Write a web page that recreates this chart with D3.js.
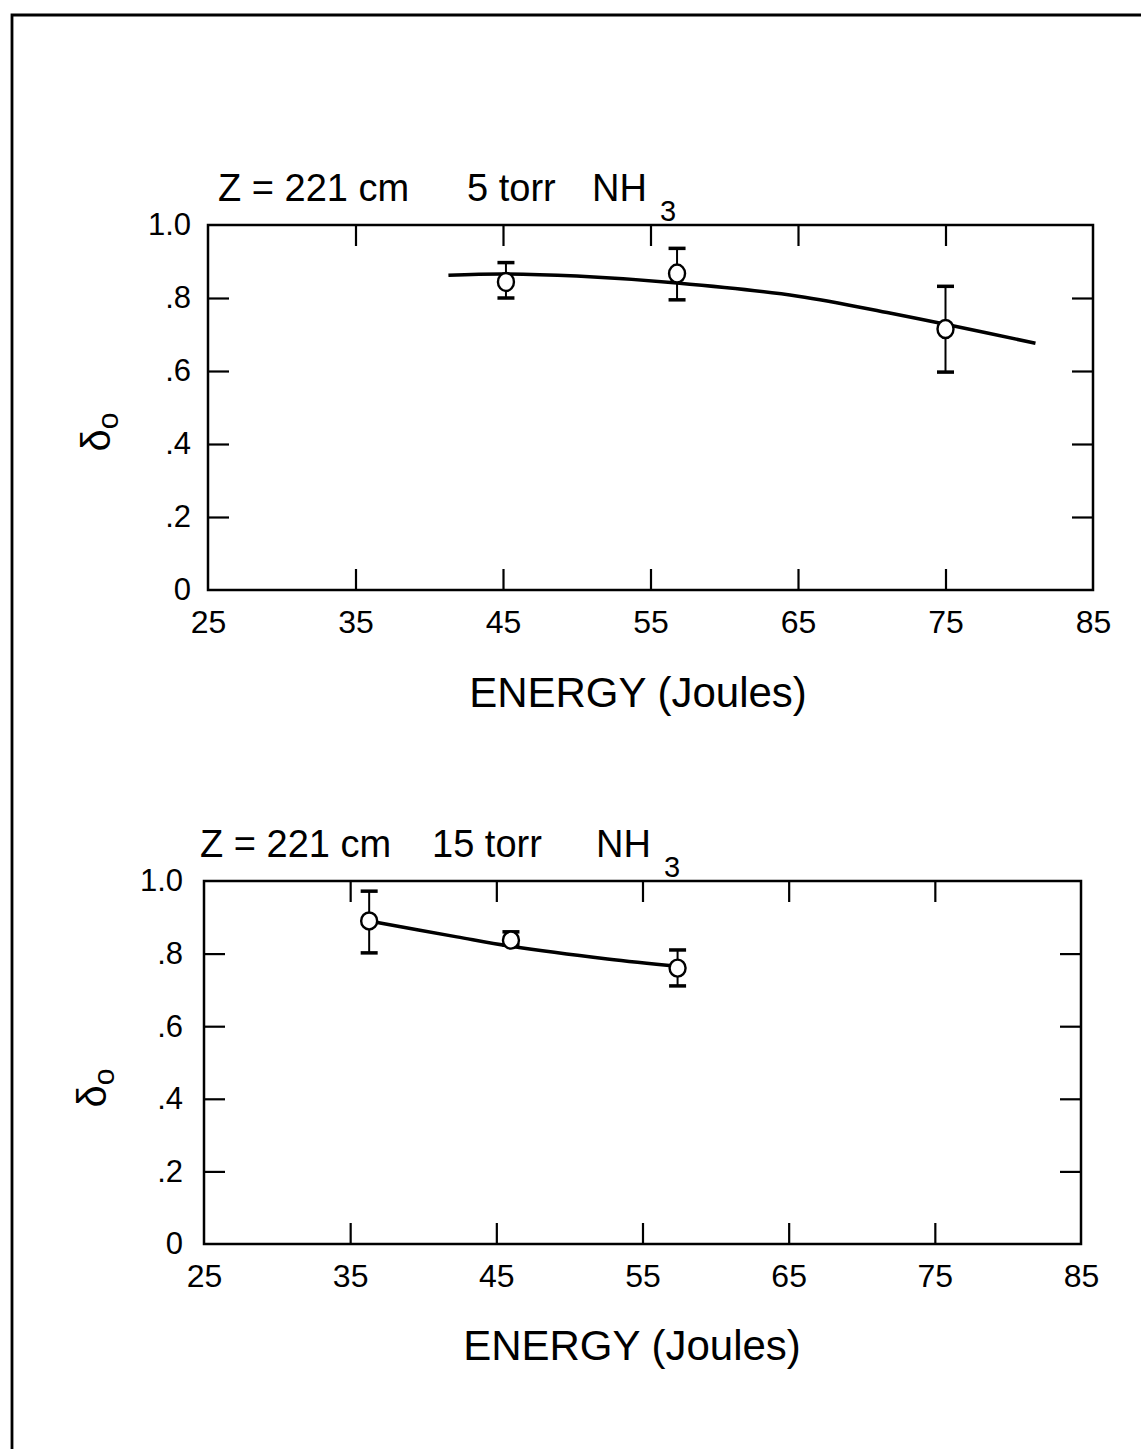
<!DOCTYPE html>
<html>
<head>
<meta charset="utf-8">
<script src="https://cdn.jsdelivr.net/npm/d3@7"></script>
<style>
  body { margin: 0; background: #fff; }
  svg text { font-family: "Liberation Sans", Arial, Helvetica, sans-serif; fill: #000; }
</style>
</head>
<body>
<svg id="chart" width="1141" height="1449"></svg>
<script>
// Axis ticks shared by both panels
const energyTicks = [25, 35, 45, 55, 65, 75, 85];
const deltaTicks = [0, 0.2, 0.4, 0.6, 0.8, 1.0];
const deltaTickLabels = ["0", ".2", ".4", ".6", ".8", "1.0"];

// 5 torr NH3: measured points with error limits, and fitted curve
const energy5 = [45.2, 56.8, 75.0];
const delta5 = [0.844, 0.867, 0.715];
const deltaLow5 = [0.800, 0.795, 0.597];
const deltaHigh5 = [0.897, 0.936, 0.832];
const fitEnergy5 = [41.3, 45, 50, 56.8, 65, 71.3, 75, 81.1];
const fitDelta5 = [0.862, 0.866, 0.860, 0.841, 0.805, 0.758, 0.728, 0.676];

// 15 torr NH3
const energy15 = [36.3, 46.0, 57.4];
const delta15 = [0.890, 0.837, 0.760];
const deltaLow15 = [0.802, 0.823, 0.711];
const deltaHigh15 = [0.972, 0.860, 0.810];
const fitEnergy15 = [36.3, 42.3, 46.0, 52.6, 57.4];
const fitDelta15 = [0.890, 0.846, 0.820, 0.785, 0.765];

const svg = d3.select("#chart");
svg.append("rect").attr("width", 1141).attr("height", 1449).attr("fill", "#fff");

// page frame (top and left edges)
svg.append("path")
  .attr("d", "M12,1449 L12,15 L1141,15")
  .attr("fill", "none").attr("stroke", "#000").attr("stroke-width", 2.8);

function drawPanel(cfg) {
  const x = d3.scaleLinear().domain([25, 85]).range([cfg.left, cfg.right]);
  const y = d3.scaleLinear().domain([0, 1]).range([cfg.bottom, cfg.top]);
  const g = svg.append("g");
  const tick = 21;

  const inner = energyTicks.slice(1, -1);
  const innerY = deltaTicks.slice(1, -1);

  // bottom axis with labels
  const bx = g.append("g").attr("transform", `translate(0,${cfg.bottom})`)
    .call(d3.axisBottom(x).tickValues(energyTicks).tickSizeInner(-tick).tickSizeOuter(0).tickPadding(20)
      .tickFormat(d => d));
  bx.selectAll(".tick line").filter(d => !inner.includes(d)).remove();
  bx.selectAll("text").attr("font-size", 32).attr("font-family", null);

  // left axis with labels
  const ly = g.append("g").attr("transform", `translate(${cfg.left},0)`)
    .call(d3.axisLeft(y).tickValues(deltaTicks).tickSizeInner(-tick).tickSizeOuter(0).tickPadding(cfg.yPad)
      .tickFormat((d, i) => deltaTickLabels[i]));
  ly.selectAll(".tick line").filter(d => !innerY.includes(d)).remove();
  ly.selectAll("text").attr("font-size", 31).attr("font-family", null);

  // top and right edges carry ticks only
  g.append("g").attr("transform", `translate(0,${cfg.top})`)
    .call(d3.axisTop(x).tickValues(inner).tickSizeInner(-tick).tickSizeOuter(0).tickFormat(""));
  g.append("g").attr("transform", `translate(${cfg.right},0)`)
    .call(d3.axisRight(y).tickValues(innerY).tickSizeInner(-tick).tickSizeOuter(0).tickFormat(""));

  g.selectAll(".domain").remove();
  g.selectAll(".tick line").attr("stroke", "#000").attr("stroke-width", 2.2);

  // frame
  g.append("rect")
    .attr("x", cfg.left).attr("y", cfg.top)
    .attr("width", cfg.right - cfg.left).attr("height", cfg.bottom - cfg.top)
    .attr("fill", "none").attr("stroke", "#000").attr("stroke-width", 2.5);

  // fitted curve
  const fit = cfg.fitE.map((e, i) => [e, cfg.fitD[i]]);
  g.append("path")
    .datum(fit)
    .attr("d", d3.line().x(d => x(d[0])).y(d => y(d[1])).curve(d3.curveCatmullRom.alpha(0.5)))
    .attr("fill", "none").attr("stroke", "#000").attr("stroke-width", 3.5);

  // error bars and points
  const pts = cfg.energy.map((e, i) => ({ e, d: cfg.delta[i], lo: cfg.low[i], hi: cfg.high[i] }));
  const eb = g.selectAll(".eb").data(pts).enter().append("g");
  eb.append("line")
    .attr("x1", d => x(d.e)).attr("x2", d => x(d.e))
    .attr("y1", d => y(d.lo)).attr("y2", d => y(d.hi))
    .attr("stroke", "#000").attr("stroke-width", 2);
  [d => d.lo, d => d.hi].forEach(f => {
    eb.append("line")
      .attr("x1", d => x(d.e) - 8.5).attr("x2", d => x(d.e) + 8.5)
      .attr("y1", d => y(f(d))).attr("y2", d => y(f(d)))
      .attr("stroke", "#000").attr("stroke-width", 3.5);
  });
  eb.append("ellipse")
    .attr("cx", d => x(d.e)).attr("cy", d => y(d.d))
    .attr("rx", 8).attr("ry", cfg.ry)
    .attr("fill", "#fff").attr("stroke", "#000").attr("stroke-width", 2.4);

  // title
  const t = g.append("text").attr("font-size", 38);
  t.append("tspan").attr("x", cfg.titleX[0]).attr("y", cfg.titleY).text("Z = 221 cm");
  t.append("tspan").attr("x", cfg.titleX[1]).attr("y", cfg.titleY).text(cfg.pressure);
  t.append("tspan").attr("x", cfg.titleX[2]).attr("y", cfg.titleY).text("NH");
  t.append("tspan").attr("x", cfg.titleX[3]).attr("y", cfg.titleY + 20).attr("font-size", 29).text("3");

  // x axis title
  g.append("text")
    .attr("x", cfg.xTitle[0]).attr("y", cfg.xTitle[1])
    .attr("text-anchor", "middle").attr("font-size", 42)
    .text("ENERGY (Joules)");

  // y axis title: delta sub o
  const yl = g.append("text")
    .attr("transform", `translate(${cfg.yTitle[0]},${cfg.yTitle[1]}) rotate(-90)`)
    .attr("text-anchor", "middle").attr("font-size", 40);
  yl.append("tspan").text("δ");
  yl.append("tspan").attr("font-size", 30).attr("dy", 8).text("o");
}

drawPanel({
  left: 208, right: 1093, top: 225, bottom: 590, yPad: 17, ry: 9,
  energy: energy5, delta: delta5, low: deltaLow5, high: deltaHigh5,
  fitE: fitEnergy5, fitD: fitDelta5,
  pressure: "5 torr", titleX: [218, 467, 592, 660], titleY: 201,
  xTitle: [638, 707], yTitle: [110, 432]
});

drawPanel({
  left: 204, right: 1081, top: 881, bottom: 1244, yPad: 21, ry: 8.5,
  energy: energy15, delta: delta15, low: deltaLow15, high: deltaHigh15,
  fitE: fitEnergy15, fitD: fitDelta15,
  pressure: "15 torr", titleX: [200, 432, 596, 664], titleY: 857,
  xTitle: [632, 1360], yTitle: [106, 1088]
});
</script>
</body>
</html>
